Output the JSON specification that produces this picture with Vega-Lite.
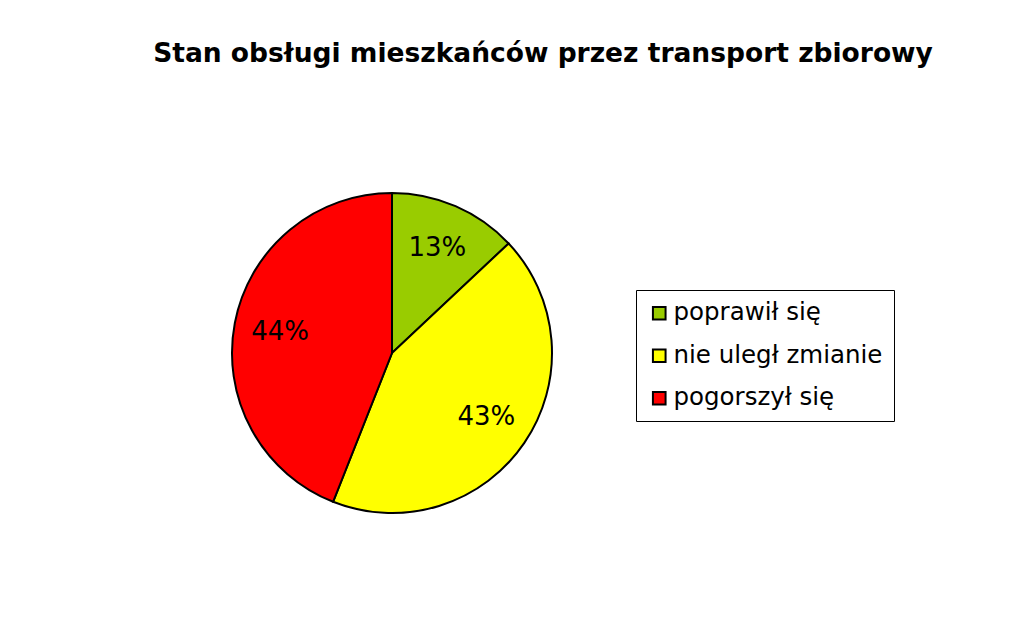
{
  "$schema": "https://vega.github.io/schema/vega-lite/v6.json",
  "autosize": {"type": "none"},
  "padding": {"left": 232, "top": 193, "right": 474, "bottom": 107},
  "width": 320,
  "height": 320,
  "background": "white",
  "title": {
    "text": "Stan obsługi mieszkańców przez transport zbiorowy",
    "font": "DejaVu Sans",
    "fontSize": 26.5,
    "fontWeight": "bold",
    "color": "black",
    "anchor": "middle",
    "frame": "group",
    "baseline": "alphabetic",
    "offset": 101,
    "dx": 151
  },
  "data": {
    "values": [
      {"stan": "poprawił się", "udzial": 0.13, "kolejnosc": 1},
      {"stan": "nie uległ zmianie", "udzial": 0.43, "kolejnosc": 2},
      {"stan": "pogorszył się", "udzial": 0.44, "kolejnosc": 3}
    ]
  },
  "encoding": {
    "theta": {"field": "udzial", "type": "quantitative", "stack": true},
    "order": {"field": "kolejnosc", "type": "quantitative"}
  },
  "layer": [
    {
      "mark": {"type": "arc", "outerRadius": 160, "stroke": "black", "strokeWidth": 2},
      "encoding": {
        "color": {
          "field": "stan",
          "type": "nominal",
          "scale": {
            "domain": ["poprawił się", "nie uległ zmianie", "pogorszył się"],
            "range": ["#99CC00", "#FFFF00", "#FF0000"]
          },
          "legend": {
            "title": null,
            "orient": "none",
            "legendX": 404,
            "legendY": 97,
            "symbolType": "square",
            "symbolSize": 160,
            "symbolStrokeColor": "black",
            "symbolStrokeWidth": 2,
            "symbolOpacity": 1,
            "labelFont": "DejaVu Sans",
            "labelFontSize": 24.5,
            "labelColor": "black",
            "labelLimit": 400,
            "labelOffset": 2,
            "rowPadding": 17.5,
            "padding": 11,
            "strokeColor": "black",
            "fillColor": "white"
          }
        }
      }
    },
    {
      "mark": {"type": "text", "radius": 114, "font": "DejaVu Sans", "fontSize": 26, "color": "black", "baseline": "middle", "align": "center"},
      "encoding": {
        "text": {"field": "udzial", "type": "quantitative", "format": ".0%"}
      }
    }
  ]
}
